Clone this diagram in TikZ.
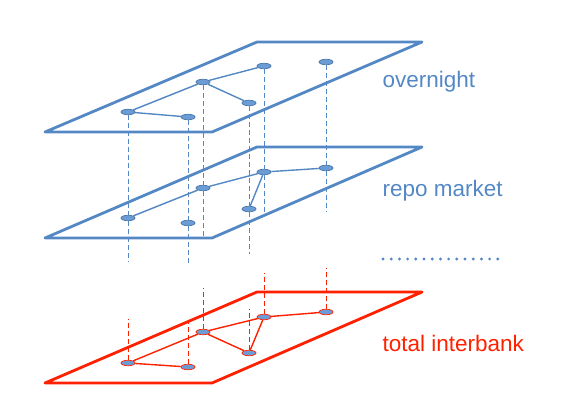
\documentclass[tikz,border=0pt]{standalone}
\usepackage{fontspec}
\setmainfont{Liberation Sans}
\usepackage{tikz}
\usetikzlibrary{shapes.geometric,positioning}
\definecolor{layerBlue}{RGB}{84,136,197}
\definecolor{bankBlue}{RGB}{108,156,214}
\definecolor{totalRed}{RGB}{255,32,0}

\begin{document}
\begin{tikzpicture}[x=1pt,y=-1pt,
    plane/.style={line width=2.8pt,line join=round},
    bank/.style={ellipse,fill=bankBlue,draw=layerBlue!85!black,line width=0.7pt,
                 minimum width=14pt,minimum height=5.5pt,inner sep=0pt},
    link/.style={line width=1.4pt},
    drop/.style={dashed,line width=0.9pt,dash pattern=on 5pt off 3pt},
    layer/.style={anchor=base west,font=\fontsize{22.5}{27}\selectfont}]
    \useasboundingbox (0,0) rectangle (581,417);

    % the three layers
    \draw[plane,layerBlue] (45,132) -- (212,132) -- (422,42) -- (257,42) -- cycle;
    \draw[plane,layerBlue] (45,238) -- (212,238) -- (422,147) -- (257,147) -- cycle;
    \draw[plane,totalRed] (45,383) -- (212,383) -- (422,292) -- (257,292) -- cycle;

    % banks, overnight
    \node[bank] (o1) at (128,112) {};
    \node[bank] (o2) at (188,117) {};
    \node[bank] (o3) at (203,82) {};
    \node[bank] (o4) at (249,103) {};
    \node[bank] (o5) at (264,66) {};
    \node[bank] (o6) at (326,62) {};

    % banks, repo
    \node[bank] (r1) at (128,218) {};
    \node[bank] (r2) at (188,223) {};
    \node[bank] (r3) at (203,188) {};
    \node[bank] (r4) at (249,209) {};
    \node[bank] (r5) at (264,172) {};
    \node[bank] (r6) at (326,168) {};

    % banks, total
    \node[bank,draw=totalRed] (t1) at (128,363) {};
    \node[bank,draw=totalRed] (t2) at (188,367) {};
    \node[bank,draw=totalRed] (t3) at (203,332) {};
    \node[bank,draw=totalRed] (t4) at (249,353) {};
    \node[bank,draw=totalRed] (t5) at (264,317) {};
    \node[bank,draw=totalRed] (t6) at (326,312) {};

    % vertical projections
    \foreach \i/\d in {1/44,2/41,3/50,4/45,5/43,6/44} {
        \draw[drop,layerBlue] (o\i) -- (r\i);
        \draw[drop,layerBlue] (r\i) -- ++(0,\d);
        \draw[drop,totalRed] (t\i) -- ++(0,-44);
    }

    % links
    \draw[link,layerBlue] (o1) -- (o2);
    \draw[link,layerBlue] (o1) -- (o3);
    \draw[link,layerBlue] (o3) -- (o5);
    \draw[link,layerBlue] (o3) -- (o4);

    \draw[link,layerBlue] (r1) -- (r3);
    \draw[link,layerBlue] (r3) -- (r5);
    \draw[link,layerBlue] (r5) -- (r6);
    \draw[link,layerBlue] (r5) -- (r4);

    \draw[link,totalRed] (t1) -- (t2);
    \draw[link,totalRed] (t1) -- (t3);
    \draw[link,totalRed] (t3) -- (t4);
    \draw[link,totalRed] (t3) -- (t5);
    \draw[link,totalRed] (t5) -- (t6);
    \draw[link,totalRed] (t5) -- (t4);

    % labels
    \node[layer,text=layerBlue] (lo) at (379,88) {overnight};
    \node[layer,text=layerBlue] (lr) at (379,196) {repo market};
    \node[layer,text=totalRed] (lt) at (379,351) {total interbank};
    \foreach \k in {0,...,14}
        \fill[layerBlue] (383+\k*8.2,259) circle (1.6pt);
\end{tikzpicture}
\end{document}
